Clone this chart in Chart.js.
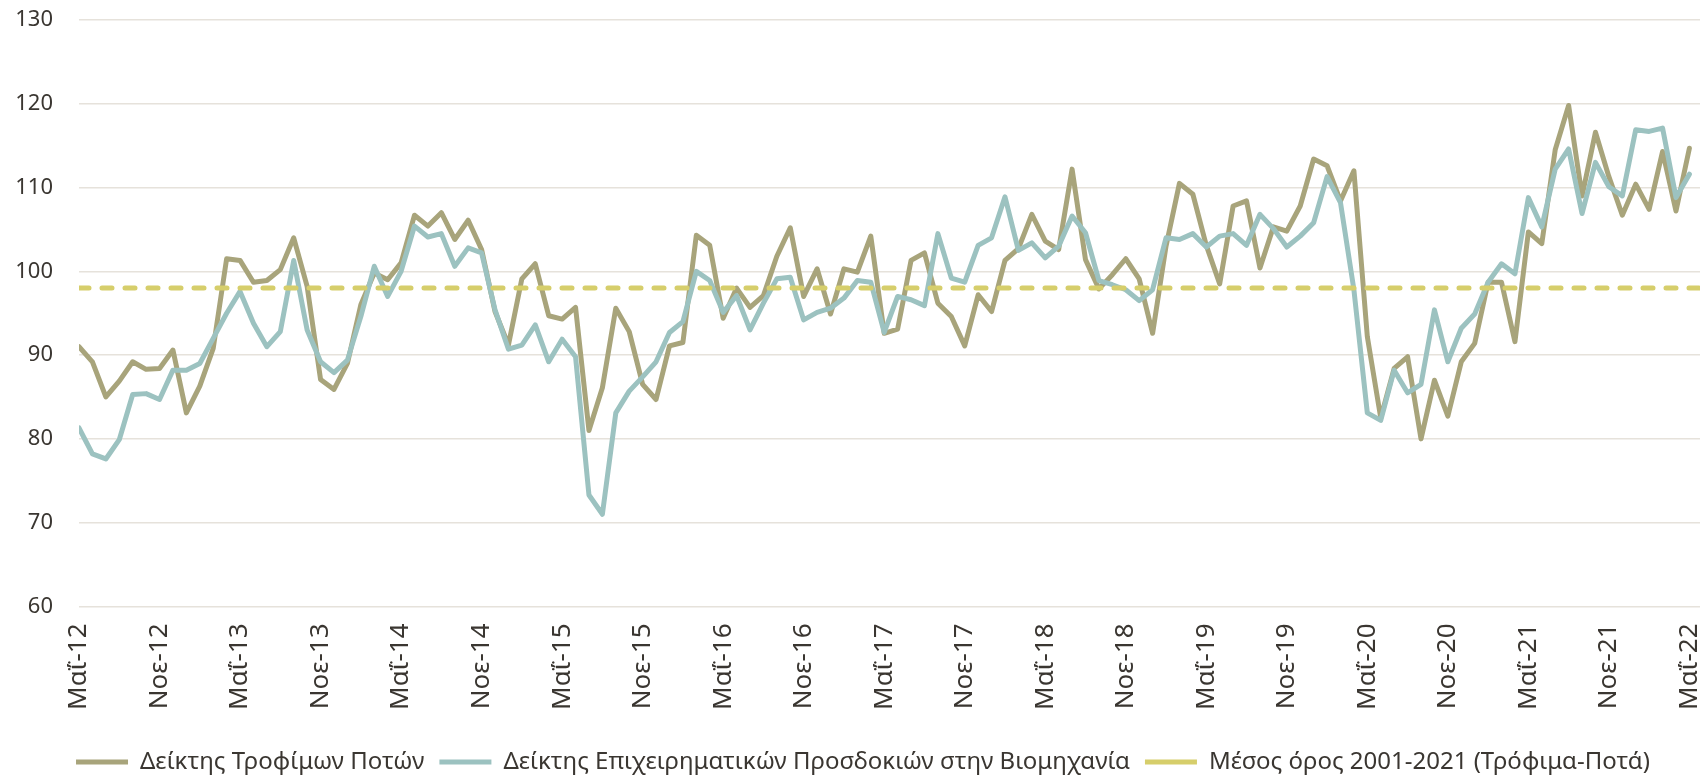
<!DOCTYPE html>
<html>
<head>
<meta charset="utf-8">
<script src="https://cdn.jsdelivr.net/npm/chart.js@4.4.1/dist/chart.umd.min.js"></script>
<style>
  html, body { margin: 0; padding: 0; background: #ffffff; }
  #wrap { width: 1700px; height: 777px; position: relative; }
</style>
</head>
<body>
<div id="wrap"><canvas id="c" width="1700" height="777"></canvas></div>
<script>
// Tick labels every 6 months (month index 0 = May 2012)
const tickLabels = ["Μαΐ-12","Νοε-12","Μαΐ-13","Νοε-13","Μαΐ-14","Νοε-14","Μαΐ-15","Νοε-15",
  "Μαΐ-16","Νοε-16","Μαΐ-17","Νοε-17","Μαΐ-18","Νοε-18","Μαΐ-19","Νοε-19","Μαΐ-20","Νοε-20",
  "Μαΐ-21","Νοε-21","Μαΐ-22"];

const seriesNames = ["Δείκτης Τροφίμων Ποτών",
  "Δείκτης Επιχειρηματικών Προσδοκιών στην Βιομηχανία",
  "Μέσος όρος 2001-2021 (Τρόφιμα-Ποτά)"];

// Monthly values, May 2012 .. May 2022
const foodDrinkIndex = [
  91.0, 89.2, 85.0, 86.9, 89.2, 88.3, 88.4, 90.6, 83.1, 86.3, 90.8, 101.5, 101.3, 98.7, 98.9,
  100.2, 104.0, 98.2, 87.1, 85.9, 89.0, 96.0, 99.8, 99.0, 101.0, 106.7, 105.4, 107.0, 103.8, 106.1,
  102.6, 95.2, 91.2, 99.1, 100.9, 94.7, 94.3, 95.7, 81.0, 86.1, 95.6, 92.8, 86.5, 84.7, 91.1,
  91.5, 104.3, 103.1, 94.4, 98.0, 95.7, 97.1, 101.8, 105.2, 97.0, 100.3, 94.9, 100.3, 99.9, 104.2,
  92.6, 93.1, 101.3, 102.2, 96.2, 94.6, 91.1, 97.2, 95.2, 101.3, 102.7, 106.8, 103.6, 102.6, 112.2,
  101.4, 97.9, 99.6, 101.5, 99.1, 92.6, 103.0, 110.5, 109.2, 103.1, 98.5, 107.8, 108.4, 100.4, 105.3,
  104.8, 107.8, 113.4, 112.6, 108.4, 112.0, 92.2, 82.5, 88.4, 89.8, 80.0, 87.0, 82.7, 89.2, 91.4,
  98.7, 98.7, 91.6, 104.7, 103.3, 114.5, 119.8, 109.0, 116.6, 111.3, 106.7, 110.4, 107.4, 114.3, 107.2, 114.7
];

const industryExpIndex = [
  81.3, 78.2, 77.6, 79.9, 85.3, 85.4, 84.7, 88.2, 88.2, 89.0, 92.0, 95.0, 97.6, 93.8, 91.0,
  92.8, 101.3, 93.0, 89.2, 87.9, 89.4, 94.6, 100.6, 97.0, 100.0, 105.4, 104.1, 104.5, 100.6, 102.8,
  102.2, 95.4, 90.7, 91.2, 93.6, 89.2, 91.9, 89.8, 73.3, 71.0, 83.1, 85.7, 87.4, 89.2, 92.7,
  94.0, 100.0, 98.9, 95.1, 97.1, 93.0, 96.2, 99.1, 99.3, 94.2, 95.1, 95.6, 96.8, 98.9, 98.7,
  92.7, 97.0, 96.6, 95.9, 104.5, 99.2, 98.7, 103.1, 104.0, 108.9, 102.5, 103.4, 101.6, 103.0, 106.6,
  104.6, 98.9, 98.4, 97.8, 96.5, 97.8, 104.0, 103.8, 104.5, 102.9, 104.2, 104.5, 103.1, 106.8, 105.1,
  102.9, 104.2, 105.8, 111.3, 108.2, 97.8, 83.1, 82.2, 88.2, 85.5, 86.5, 95.4, 89.2, 93.2, 94.9,
  98.7, 100.9, 99.7, 108.8, 105.3, 112.2, 114.6, 106.9, 113.0, 110.1, 109.0, 116.9, 116.7, 117.1, 108.8, 111.6
];

const longRunAverage = 98;

const yTicks = { min: 60, max: 130, step: 10 };
const monthsPerTick = 6;

// ---- build chart ----
const FONT = "'Noto Sans', 'DejaVu Sans', sans-serif";
const TEXT = '#3a3631';
const RIGHT_PAD = -26;            // lets the centred legend sit like the original
const X_MAX = (1700 - 79) / 13.42;

const toPoints = arr => arr.map((v, i) => ({ x: i, y: v }));

new Chart(document.getElementById('c'), {
  type: 'line',
  data: {
    datasets: [
      {
        label: seriesNames[0],
        data: toPoints(foodDrinkIndex),
        borderColor: '#a8a47b',
        backgroundColor: '#a8a47b',
        borderWidth: 5,
        pointRadius: 0,
        tension: 0,
        borderJoinStyle: 'round',
        borderCapStyle: 'round',
        order: 3
      },
      {
        label: seriesNames[1],
        data: toPoints(industryExpIndex),
        borderColor: '#9cc2c0',
        backgroundColor: '#9cc2c0',
        borderWidth: 5,
        pointRadius: 0,
        tension: 0,
        borderJoinStyle: 'round',
        borderCapStyle: 'round',
        order: 2
      },
      {
        label: seriesNames[2],
        data: [{ x: 0, y: longRunAverage }, { x: X_MAX, y: longRunAverage }],
        borderColor: '#d6ce6b',
        backgroundColor: '#d6ce6b',
        borderWidth: 5,
        borderDash: [10, 13],
        borderCapStyle: 'round',
        pointRadius: 0,
        tension: 0,
        order: 1
      }
    ]
  },
  options: {
    responsive: false,
    animation: false,
    devicePixelRatio: 1,
    layout: { padding: { top: 20, right: RIGHT_PAD, left: 0, bottom: -7 } },
    plugins: {
      tooltip: { enabled: false },
      legend: {
        position: 'bottom',
        align: 'center',
        labels: {
          usePointStyle: true,
          pointStyle: 'line',
          pointStyleWidth: 52,
          boxHeight: 24,
          padding: 15,
          color: TEXT,
          font: { family: FONT, size: 24 },
          sort: (a, b) => a.datasetIndex - b.datasetIndex
        }
      }
    },
    scales: {
      x: {
        type: 'linear',
        min: 0,
        max: X_MAX,
        grid: { display: false, drawTicks: false },
        border: { display: false },
        afterBuildTicks: s => {
          s.ticks = tickLabels.map((_, k) => ({ value: k * monthsPerTick }));
        },
        afterFit: s => { s.height = 128.6; s.paddingLeft = 0; s.paddingRight = 0; },
        ticks: {
          autoSkip: false,
          maxRotation: 90,
          minRotation: 90,
          padding: 17,
          color: TEXT,
          font: { family: FONT, size: 26 },
          callback: v => tickLabels[Math.round(v / monthsPerTick)] ?? ''
        }
      },
      y: {
        min: yTicks.min,
        max: yTicks.max,
        grid: { color: '#e6e2db', lineWidth: 1.6, drawTicks: false },
        border: { display: false },
        afterFit: s => { s.width = 79; s.paddingTop = 0; s.paddingBottom = 0; },
        ticks: {
          stepSize: yTicks.step,
          padding: 26,
          color: TEXT,
          font: { family: FONT, size: 22 }
        }
      }
    }
  }
});
</script>
</body>
</html>
